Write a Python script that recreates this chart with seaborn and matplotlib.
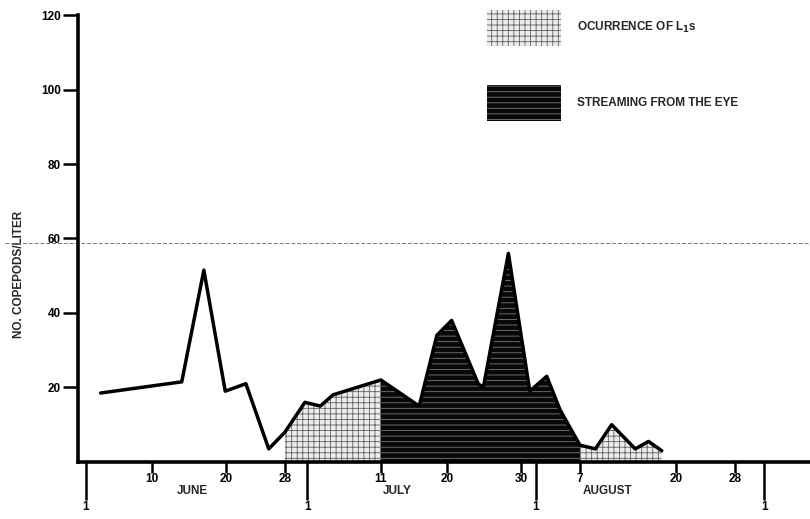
import matplotlib
matplotlib.use("Agg")
import matplotlib.pyplot as plt
from matplotlib.patches import Patch
import numpy as np
import pandas as pd
import seaborn as sns

# days counted from June 1 (= 1); July 1 = 31, Aug 1 = 62, Sep 1 = 93
days = [3, 14, 17, 19.9, 22.7, 25.8, 28, 30.7, 32.8, 34.5, 41, 46.2, 48.6,
        50.6, 54.2, 54.9, 58.3, 61.2, 63.5, 65.3, 68, 70.1, 72.3, 75.5, 77.3, 79.1]
copepods = [18.5, 21.5, 51.5, 19, 21, 3.5, 8, 16, 15, 18, 22, 15, 34,
            38, 21, 20, 56, 19, 23, 14, 4.5, 3.5, 10, 3.5, 5.5, 3]

# periods (start day, end day)
l1_periods = [(28, 41), (68, 79.1)]
eye_period = (41, 68)

month_ticks = [1, 31, 62, 93]
month_tick_labels = ["1", "1", "1", "1"]
day_ticks = [10, 20, 28, 41, 50, 60, 68, 81, 89]
day_tick_labels = ["10", "20", "28", "11", "20", "30", "7", "20", "28"]
month_names = ["JUNE", "JULY", "AUGUST"]
month_name_pos = [15.4, 43.3, 71.8]

y_ticks = [20, 40, 60, 80, 100, 120]

sns.set_style("white")
plt.rcParams['font.family'] = ['Liberation Sans', 'DejaVu Sans']
plt.rcParams['font.weight'] = 'bold'
plt.rcParams['hatch.linewidth'] = 0.6

df = pd.DataFrame({"day": days, "n": copepods})
d = np.array(days)
v = np.array(copepods)

fig = plt.figure(figsize=(8.1, 5.19), dpi=100)
ax = fig.add_axes([0.096, 0.110, 0.904, 0.861])

light = dict(facecolor="#ececec", edgecolor="#606060", hatch="+++", linewidth=0)
dark = dict(facecolor="#080808", edgecolor="#7a7a7a", hatch="---", linewidth=0)

for a, b in l1_periods:
    m = (d >= a) & (d <= b)
    ax.fill_between(d, 0, v, where=m, **light)
m = (d >= eye_period[0]) & (d <= eye_period[1])
ax.fill_between(d, 0, v, where=m, **dark)

sns.lineplot(data=df, x="day", y="n", ax=ax, color="black", linewidth=2.5,
             sort=False, legend=False)

# faint scan line
ax.axhline(58.8, xmin=-0.1, xmax=1, color="#777777", linestyle=(0, (4, 2)),
           linewidth=0.7, clip_on=False)

ax.set_xlim(-0.1, 99.2)
ax.set_ylim(0, 120)
sns.despine(ax=ax)
for s in ["left", "bottom"]:
    ax.spines[s].set_linewidth(2.6)
    ax.spines[s].set_color("black")

ax.set_yticks(y_ticks)
ax.set_yticklabels([str(t) for t in y_ticks])
ax.tick_params(axis="y", direction="out", length=11, width=1.8, labelsize=8.5,
               pad=1, left=True, colors="black")

ax.set_xticks(month_ticks)
ax.set_xticklabels(month_tick_labels)
ax.set_xticks(day_ticks, minor=True)
ax.set_xticklabels(day_tick_labels, minor=True)
ax.tick_params(axis="x", which="major", direction="out", length=27, width=1.8,
               labelsize=8.5, pad=1, bottom=True, colors="black")
ax.tick_params(axis="x", which="minor", direction="out", length=8, width=1.8,
               labelsize=8.5, pad=0, bottom=True, colors="black")

for name, pos in zip(month_names, month_name_pos):
    ax.text(pos, -0.066, name, transform=ax.get_xaxis_transform(),
            ha="center", va="center", fontsize=8.5, fontweight="bold")

ax.set_ylabel("NO. COPEPODS/LITER", fontsize=8.5, fontweight="bold")
ax.yaxis.set_label_coords(-0.072, 0.42)
ax.set_xlabel("")

handles = [Patch(label="OCURRENCE OF L$_\\mathbf{1}$s", **light),
           Patch(label="STREAMING FROM THE EYE", **dark)]
fig.legend(handles=handles, loc="upper left", bbox_to_anchor=(0.601, 0.981),
           frameon=False, fontsize=8.5, handlelength=6.3, handleheight=4.3,
           labelspacing=3.3, handletextpad=1.3, borderpad=0, borderaxespad=0)

fig.savefig("out.png", dpi=100)
